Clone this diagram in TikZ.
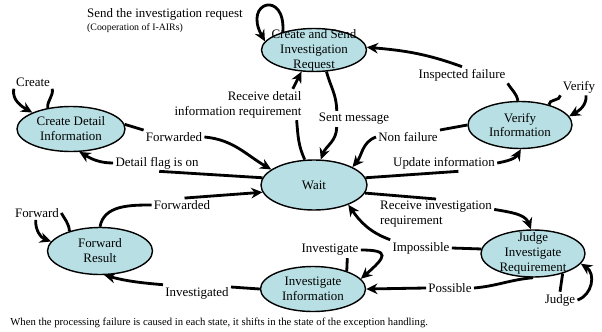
\documentclass[tikz,border=0pt]{standalone}
\usepackage{fontspec}
\setmainfont{Liberation Serif}
\usepackage{tikz}
\usepackage{xcolor}
\usetikzlibrary{shapes.geometric, arrows.meta}

\definecolor{statecyan}{RGB}{184,224,228}

\begin{document}
\begin{tikzpicture}[x=0.025cm, y=0.025cm, font=\fontsize{9.2}{10.6}\selectfont]
		% Define styles for states, labels and arrows
		\tikzstyle{state} = [ellipse, draw=black, line width=1pt, fill=statecyan, inner sep=0pt]
		\tikzstyle{lbl} = [inner sep=1.5pt]
		\tikzstyle{link} = [line width=2pt]
		\tikzstyle{arrow} = [line width=2pt, -{Stealth[length=8pt, width=7.5pt]}]
		
		\useasboundingbox (0,0) rectangle (602,331);
		
		% Draw the states
		\node[state, minimum width=2.625cm, minimum height=1.075cm, label={[align=center]center:Create and Send\\Investigation\\Request}] (send) at (314,281) {};
		\node[state, minimum width=2.7cm, minimum height=1.125cm, label={[align=center]center:Create Detail\\Information}] (detail) at (71,202) {};
		\node[state, minimum width=2.65cm, minimum height=1.25cm, label={center:Wait}] (wait) at (314,146) {};
		\node[state, minimum width=2.6cm, minimum height=1.175cm, label={[align=center]center:Verify\\Information}] (verify) at (520,206) {};
		\node[state, minimum width=2.6cm, minimum height=1.175cm, label={[align=center]center:Judge\\Investigate\\Requirement}] (judge) at (533,77.5) {};
		\node[state, minimum width=2.625cm, minimum height=1.125cm, label={[align=center]center:Investigate\\Information}] (invest) at (313,42) {};
		\node[state, minimum width=2.625cm, minimum height=1.175cm, label={[align=center]center:Forward\\Result}] (fwdres) at (100,80) {};
		
		% Annotate the transitions
		\node[lbl] (sendlbl) at (165,317) {Send the investigation request};
		\node[lbl, font=\fontsize{7}{8}\selectfont, inner ysep=0.5pt, anchor=north west] (coop) at (sendlbl.south west) {(Cooperation of I-AIRs)};
		\node[lbl] (createlbl) at (33,249) {Create};
		\node[lbl] (fwd1) at (174,194) {Forwarded};
		\node[lbl] (dflag) at (157,168) {Detail flag is on};
		\node[lbl, align=right] (rcvdet) at (238,226.5) {Receive detail\\information requirement};
		\node[lbl] (sentmsg) at (354,212) {Sent message};
		\node[lbl] (inspected) at (462,256) {Inspected failure};
		\node[lbl] (verifylbl) at (579,244) {Verify};
		\node[lbl] (nonfail) at (408,194) {Non failure};
		\node[lbl] (update) at (444,168) {Update information};
		\node[lbl, align=left] (rcvinv) at (436,116.5) {Receive investigation\\requirement};
		\node[lbl] (impossible) at (421,83) {Impossible};
		\node[lbl] (possible) at (450,43) {Possible};
		\node[lbl] (judgelbl) at (560,31) {Judge};
		\node[lbl] (invlbl) at (330,81) {Investigate};
		\node[lbl] (invd) at (197,38) {Investigated};
		\node[lbl] (fwd2) at (182,126) {Forwarded};
		\node[lbl] (fwdlbl) at (37,118) {Forward};
		\node[lbl, font=\fontsize{7.6}{9}\selectfont, anchor=west] (note) at (8,8) {When the processing failure is caused in each state, it shifts in the state of the exception handling.};
		
		% Draw the self loops
		\draw [arrow] (send.150) .. controls +(3,42) and +(-22,40) .. (send.170);
		\draw [link] (detail.138) to[out=95,in=-80] (createlbl.south east);
		\draw [arrow] (createlbl.south west) to[out=-100,in=150] (detail.157);
		\draw [link] (fwdres.147) to[out=95,in=-60] (fwdlbl.east);
		\draw [arrow] (fwdlbl.-100) to[out=-95,in=160] (fwdres.169);
		\draw [link] (invest.28) -- (invlbl.-25);
		\draw [arrow] (invlbl.east) .. controls +(30,0) and +(25,22) .. (invest.12);
		\draw [link] (judge.-34) -- (judgelbl.north);
		\draw [arrow] (judgelbl.east) .. controls +(15,5) and +(15,-10) .. (judge.-12);
		\draw [link] (verify.35) to[out=95,in=-90] (verifylbl.south west);
		\draw [arrow] (verifylbl.-50) to[out=-85,in=30] (verify.10);
		
		% Draw the transitions between states
		\draw [link] (send.-60) to[out=-75,in=90] (sentmsg.155);
		\draw [arrow] (sentmsg.-155) to[out=-90,in=70] (wait.75);
		\draw [link] (wait.110) to[out=115,in=-85] (rcvdet.-15);
		\draw [arrow] (rcvdet.16) -- (send.-120);
		\draw [link] (detail.5) -- (fwd1.north west);
		\draw [arrow] (fwd1.east) to[out=-5,in=150] (wait.160);
		\draw [link] (wait.172) -- (dflag.-75);
		\draw [arrow] (dflag.west) to[out=180,in=-30] (detail.-70);
		\draw [link] (fwdres.north) to[out=80,in=180] (fwd2.west);
		\draw [arrow] (fwd2.70) -- (wait.188);
		\draw [link] (invest.west) -- (invd.10);
		\draw [arrow] (invd.north west) to[out=175,in=-15] (fwdres.-80);
		\draw [link] (judge.south) to[out=185,in=5] (possible.east);
		\draw [arrow] (possible.west) -- (invest.east);
		\draw [link] (judge.175) -- (impossible.east);
		\draw [arrow] (impossible.north west) to[out=160,in=-55] (wait.-30);
		\draw [link] (wait.-9) -- (rcvinv.north);
		\draw [arrow] (rcvinv.5) to[out=-10,in=110] (judge.95);
		\draw [link] (wait.8) -- (update.-30);
		\draw [arrow] (update.east) to[out=10,in=-120] (verify.-88);
		\draw [link] (verify.west) -- (nonfail.north east);
		\draw [arrow] (nonfail.west) to[out=200,in=50] (wait.25);
		\draw [link] (verify.95) to[out=100,in=-60] (inspected.south east);
		\draw [arrow] (inspected.north) to[out=160,in=-5] (send.3);
	
	\end{tikzpicture}
\end{document}
